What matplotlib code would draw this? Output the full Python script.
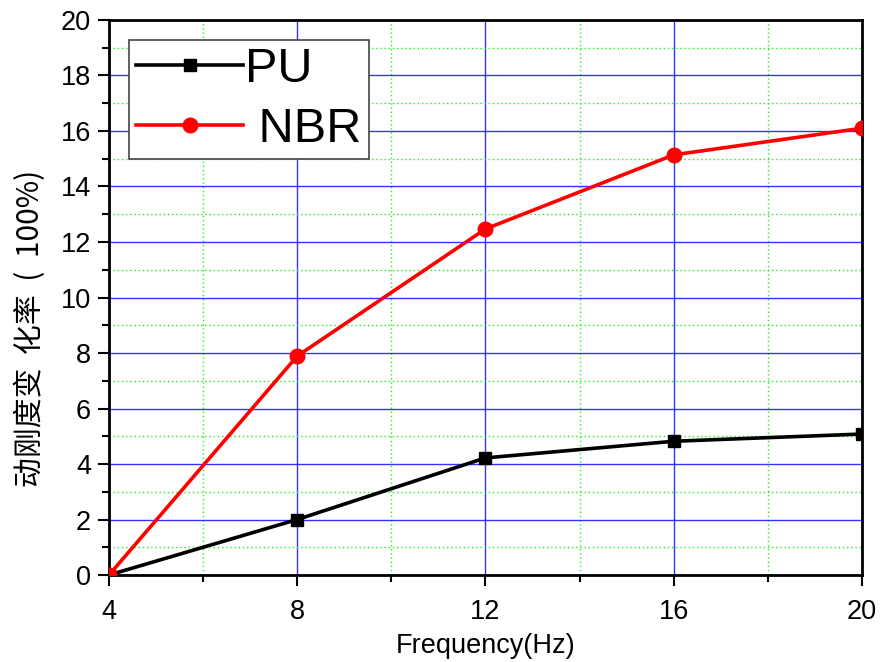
import numpy as np
import matplotlib.pyplot as plt
from matplotlib.ticker import MultipleLocator

plt.rcParams['font.family'] = ['Liberation Sans', 'Noto Sans CJK SC', 'DejaVu Sans']

freq = np.array([4, 8, 12, 16, 20])
pu = np.array([0.0, 2.0, 4.22, 4.82, 5.08])
nbr = np.array([0.0, 7.89, 12.47, 15.14, 16.1])

fig = plt.figure(figsize=(8.81, 6.62), dpi=100)
ax = fig.add_axes([0.1237, 0.1314, 0.8547, 0.8384])

ax.plot(freq, pu, color='black', marker='s', markersize=8, linewidth=2.6, label='PU', zorder=3)
ax.plot(freq, nbr, color='red', marker='o', markersize=10.5, linewidth=2.6, label=' NBR', zorder=3)

ax.set_xlim(4, 20)
ax.set_ylim(0, 20)
ax.xaxis.set_major_locator(MultipleLocator(4))
ax.xaxis.set_minor_locator(MultipleLocator(2))
ax.yaxis.set_major_locator(MultipleLocator(2))
ax.yaxis.set_minor_locator(MultipleLocator(1))

ax.grid(which='major', color='#0000ff', linewidth=1.0, alpha=0.8)
ax.grid(which='minor', color='#22ee22', linewidth=1.0, linestyle=(0, (1, 2)))
ax.set_axisbelow(True)

ax.tick_params(which='major', direction='out', length=8, width=1.5, labelsize=19.5)
ax.tick_params(which='minor', direction='out', length=5, width=1.5)
ax.tick_params(axis='x', which='major', pad=9)
ax.tick_params(axis='y', which='major', pad=5)
for s in ax.spines.values():
    s.set_linewidth(2)

ax.set_xlabel('Frequency(Hz)', fontsize=19.5, labelpad=6)
ax.set_ylabel('动刚度变  化率  (  100%)', fontsize=21.5,
              family=['Noto Sans CJK SC', 'DejaVu Sans'])
ax.yaxis.set_label_coords(-0.083, 0.445)

leg = ax.legend(loc='upper left', bbox_to_anchor=(0.027, 0.964), fontsize=35,
                frameon=True, fancybox=False, handlelength=2.2, handletextpad=0.05,
                borderpad=0.14, labelspacing=0.32, borderaxespad=0)
leg.get_frame().set_edgecolor('#444444')
leg.get_frame().set_linewidth(1.2)
leg.get_frame().set_alpha(1)

fig.savefig('out.png', dpi=100)
